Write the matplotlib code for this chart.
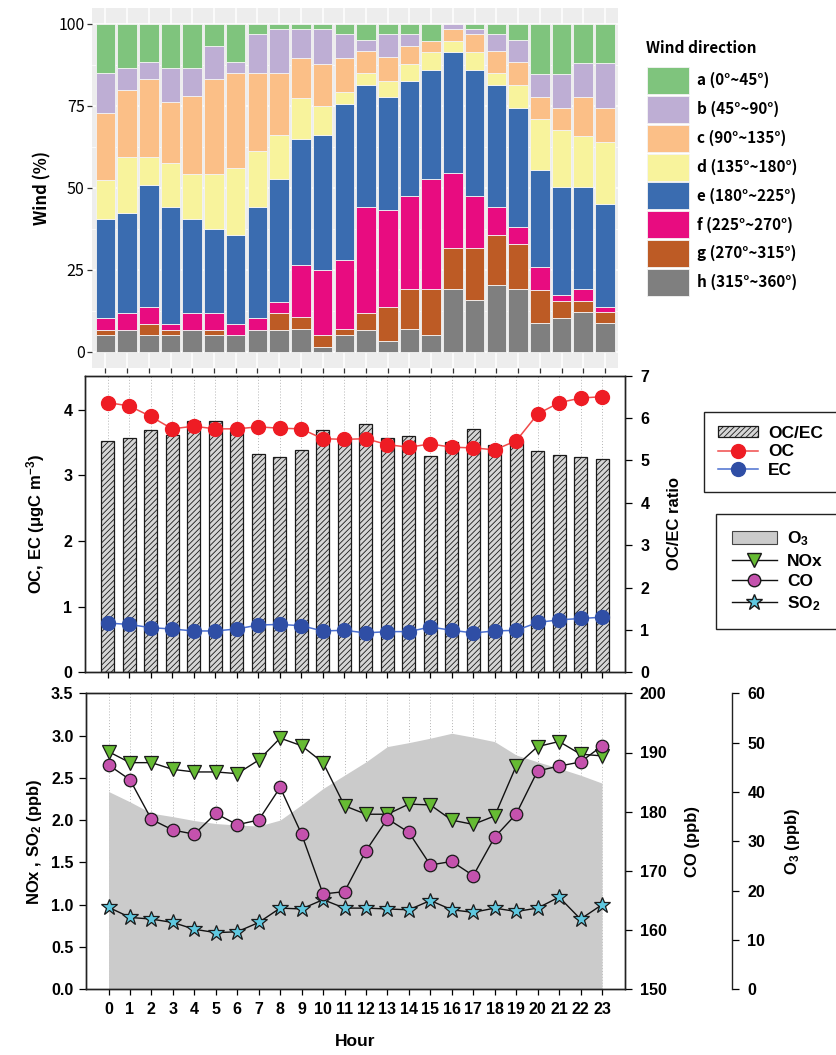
import numpy as np
import matplotlib
matplotlib.use("Agg")
import matplotlib.pyplot as plt
from matplotlib.patches import Patch
from matplotlib.lines import Line2D

plt.rcParams['font.family'] = ['Liberation Sans', 'DejaVu Sans']
plt.rcParams['font.weight'] = 'bold'
plt.rcParams['axes.labelweight'] = 'bold'
plt.rcParams['mathtext.fontset'] = 'custom'
plt.rcParams['mathtext.rm'] = 'Liberation Sans:bold'
plt.rcParams['mathtext.it'] = 'Liberation Sans:bold:italic'
plt.rcParams['mathtext.bf'] = 'Liberation Sans:bold'
plt.rcParams['mathtext.default'] = 'rm'
plt.rcParams['hatch.linewidth'] = 0.6

hours = np.arange(24)

# wind direction frequency (%) by hour, one list per sector
wind_a = [15.0, 13.4, 11.7, 13.4, 13.4, 6.6, 11.7, 3.0, 1.5, 1.5, 1.5, 3.2,
          4.9, 3.2, 3.2, 5.1, 0.0, 1.5, 3.2, 4.9, 15.2, 15.2, 11.8, 11.8]
wind_b = [12.1, 6.7, 5.2, 10.3, 8.6, 10.3, 3.3, 12.0, 13.5, 8.9, 10.8, 7.2,
          3.4, 7.0, 3.6, 0.0, 1.5, 1.7, 5.1, 6.8, 7.1, 10.4, 10.5, 13.8]
wind_c = [20.4, 20.5, 23.7, 18.6, 23.7, 28.8, 29.0, 23.9, 18.8, 12.2, 12.7, 10.5,
          6.7, 7.1, 5.4, 3.5, 3.6, 5.4, 6.7, 6.9, 6.8, 6.9, 12.0, 10.5]
wind_d = [11.9, 17.0, 8.4, 13.6, 13.7, 17.0, 20.5, 17.0, 13.6, 12.4, 8.8, 3.5,
          3.6, 5.0, 5.1, 5.3, 3.5, 5.3, 3.6, 7.0, 15.6, 17.4, 15.6, 18.9]
wind_e = [30.4, 30.7, 37.5, 35.7, 28.9, 25.6, 27.1, 33.9, 37.4, 38.7, 41.3, 47.5,
          37.3, 34.6, 35.3, 33.3, 36.9, 38.7, 37.3, 36.4, 29.5, 32.8, 31.1, 31.3]
wind_f = [3.6, 5.1, 5.1, 1.8, 5.1, 5.1, 3.3, 3.6, 3.5, 15.8, 19.8, 21.2,
          32.4, 29.4, 28.2, 33.6, 22.8, 15.7, 8.6, 5.3, 7.0, 1.9, 3.6, 1.7]
wind_g = [1.5, 0.0, 3.3, 1.5, 0.0, 1.5, 0.0, 0.0, 5.1, 3.6, 3.6, 1.8,
          5.1, 10.5, 12.3, 14.1, 12.5, 16.0, 15.2, 13.7, 10.2, 5.0, 3.4, 3.4]
wind_h = [5.1, 6.6, 5.1, 5.1, 6.6, 5.1, 5.1, 6.6, 6.6, 6.9, 1.5, 5.1,
          6.6, 3.2, 6.9, 5.1, 19.2, 15.7, 20.3, 19.0, 8.6, 10.4, 12.0, 8.6]
wind_labels = ['a (0°~45°)', 'b (45°~90°)', 'c (90°~135°)', 'd (135°~180°)',
               'e (180°~225°)', 'f (225°~270°)', 'g (270°~315°)', 'h (315°~360°)']

# carbon (µgC/m3) and OC/EC ratio
oc = [4.11, 4.06, 3.90, 3.71, 3.75, 3.71, 3.71, 3.74, 3.72, 3.71, 3.56, 3.55,
      3.56, 3.47, 3.43, 3.48, 3.43, 3.42, 3.39, 3.53, 3.94, 4.11, 4.18, 4.20]
ec = [0.75, 0.73, 0.68, 0.66, 0.63, 0.63, 0.66, 0.72, 0.73, 0.71, 0.63, 0.64,
      0.60, 0.62, 0.62, 0.69, 0.64, 0.60, 0.63, 0.64, 0.76, 0.80, 0.82, 0.84]
ocec = [5.45, 5.53, 5.71, 5.61, 5.92, 5.93, 5.70, 5.16, 5.07, 5.24, 5.71, 5.55,
        5.87, 5.54, 5.57, 5.11, 5.43, 5.74, 5.37, 5.45, 5.23, 5.14, 5.07, 5.04]

# gases (ppb)
o3 = [40.1, 38.0, 35.7, 35.0, 34.2, 33.6, 33.3, 33.1, 34.3, 37.4, 40.7, 43.4,
      46.1, 49.2, 50.0, 50.9, 51.9, 51.1, 50.2, 47.5, 46.1, 44.8, 43.4, 41.8]
nox = [2.81, 2.68, 2.68, 2.60, 2.57, 2.57, 2.55, 2.71, 2.97, 2.88, 2.68, 2.17,
       2.07, 2.07, 2.19, 2.18, 2.00, 1.95, 2.05, 2.64, 2.87, 2.93, 2.78, 2.76]
co = [187.9, 185.4, 178.7, 176.9, 176.2, 179.7, 177.8, 178.6, 184.1, 176.2, 166.1, 166.5,
      173.4, 178.8, 176.5, 171.0, 171.6, 169.2, 175.7, 179.6, 186.9, 187.7, 188.4, 191.1]
so2 = [0.97, 0.85, 0.83, 0.79, 0.71, 0.67, 0.68, 0.79, 0.96, 0.95, 1.06, 0.96,
       0.96, 0.95, 0.94, 1.05, 0.94, 0.91, 0.96, 0.92, 0.96, 1.09, 0.83, 1.00]

fig = plt.figure(figsize=(8.36, 10.55), dpi=100)
W, H = 836.0, 1055.0

# ---- wind direction stacked bars (ggplot look) ----
kr = ['Noto Sans CJK KR', 'DejaVu Sans']
ax1 = fig.add_axes([92.3 / W, 1 - 368 / H, 525.7 / W, 360.4 / H])
ax1.set_facecolor('#ededed')
wind_cols = ['#7fc47d', '#beaed4', '#fbbf87', '#f8f39c',
             '#3a6cb0', '#e80c80', '#bd5b25', '#7f7f7f']
stack = [wind_h, wind_g, wind_f, wind_e, wind_d, wind_c, wind_b, wind_a]
stack_cols = wind_cols[::-1]
bottom = np.zeros(24)
for vals, col in zip(stack, stack_cols):
    ax1.bar(hours, vals, 0.9, bottom=bottom, color=col, edgecolor='#f4f4f4',
            linewidth=0.6, zorder=3)
    bottom += np.array(vals)
ax1.set_xlim(-0.6, 23.6)
ax1.set_ylim(-5, 105)
ax1.set_xticks(hours)
ax1.set_xticklabels([])
ax1.set_yticks([0, 25, 50, 75, 100])
ax1.set_yticks([12.5, 37.5, 62.5, 87.5], minor=True)
ax1.grid(which='major', color='white', lw=1.1, zorder=0)
ax1.grid(which='minor', axis='y', color='white', lw=0.55, zorder=0)
ax1.tick_params(which='major', length=3.5, width=0.9, color='#333333', pad=2)
ax1.tick_params(which='minor', length=0)
for lab in ax1.get_yticklabels():
    lab.set_fontfamily(kr)
    lab.set_fontsize(11.5)
    lab.set_fontweight('medium')
for s in ax1.spines.values():
    s.set_visible(False)
ax1.set_ylabel('Wind (%)', fontsize=12, fontweight='bold', family=kr, labelpad=5)

wind_handles = [Patch(facecolor=c, edgecolor='#f4f4f4', lw=0.6) for c in wind_cols]
leg1 = ax1.legend(wind_handles, wind_labels,
                  loc='upper left', bbox_to_anchor=(641 / W, 1 - 61 / H),
                  bbox_transform=fig.transFigure, frameon=False,
                  prop={'family': kr, 'weight': 'bold', 'size': 11},
                  handlelength=2.75, handleheight=2.34, labelspacing=0.12,
                  handletextpad=0.5, borderaxespad=0)
fig.text(646 / W, 1 - 48 / H, 'Wind direction', family=kr, fontweight='bold',
         fontsize=11, va='center', ha='left')

# ---- OC / EC and ratio ----
ax2 = fig.add_axes([85 / W, 1 - 672.3 / H, 540 / W, 296.6 / H])
ax2r = ax2.twinx()
ax2r.set_zorder(1)
ax2.set_zorder(2)
ax2.patch.set_visible(False)
ax2r.vlines(hours, 0, 7, colors='#b5b5b5', linestyles=(0, (1, 2)), lw=0.7, zorder=0)
ax2r.bar(hours, ocec, 0.6, facecolor='#d6d6d6', edgecolor='#1a1a1a',
         hatch='//////', lw=0.9, zorder=2)
ax2.plot(hours, oc, '-o', color='#f04a4a', lw=1.1, ms=10,
         mfc='#ee1c24', mec='#ee1c24', zorder=3)
ax2.plot(hours, ec, '-o', color='#4a6fd0', lw=1.1, ms=10,
         mfc='#2f4ea5', mec='#2f4ea5', zorder=3)
ax2.set_xlim(-1.05, 24.05)
ax2.set_ylim(0, 4.52)
ax2r.set_ylim(0, 7)
ax2.set_xticks(hours)
ax2.set_xticklabels([])
ax2.set_yticks([0, 1, 2, 3, 4])
ax2r.set_yticks(range(8))
ax2.tick_params(axis='x', direction='out', length=4.5, width=0.9)
ax2.tick_params(axis='y', direction='out', length=5, width=0.9, labelsize=11.5, pad=4)
ax2r.tick_params(axis='y', direction='out', length=5, width=0.9, labelsize=11.5, pad=6)
for a in (ax2, ax2r):
    for s in a.spines.values():
        s.set_linewidth(1.0)
        s.set_color('#222222')
ax2.set_ylabel('OC, EC (μgC m$^{-3}$)', fontsize=12, labelpad=12)
ax2r.set_ylabel('OC/EC ratio', fontsize=12, labelpad=13)

carbon_handles = [
    Patch(facecolor='#d6d6d6', edgecolor='#1a1a1a', hatch='//////', lw=0.9),
    Line2D([], [], color='#f04a4a', lw=1.1, marker='o', ms=10, mfc='#ee1c24', mec='#ee1c24'),
    Line2D([], [], color='#4a6fd0', lw=1.1, marker='o', ms=10, mfc='#2f4ea5', mec='#2f4ea5'),
]
leg2 = fig.legend(carbon_handles, ['OC/EC', 'OC', 'EC'], loc='upper left',
                  bbox_to_anchor=(704 / W, 1 - 412 / H), fancybox=False,
                  edgecolor='#222222', framealpha=1, prop={'weight': 'bold', 'size': 12.5},
                  handlelength=2.3, handleheight=0.6, labelspacing=0.2,
                  handletextpad=0.6, borderpad=0.8, borderaxespad=0)
leg2.get_frame().set_linewidth(1.0)

# ---- gases ----
ax3 = fig.add_axes([86 / W, 1 - 989.3 / H, 538.5 / W, 296 / H])
ax3o = ax3.twinx()
ax3c = ax3.twinx()
ax3o.set_zorder(0)
ax3.set_zorder(1)
ax3c.set_zorder(2)
ax3.patch.set_visible(False)

ax3o.vlines(hours, 0, 60, colors='#b5b5b5', linestyles=(0, (1, 2)), lw=0.7, zorder=0)
ax3o.fill_between(hours, o3, color='#cbcbcb', lw=0, zorder=1)
ax3.plot(hours, nox, '-v', color='#111111', lw=1.0, ms=10,
         mfc='#66bb33', mec='#1a1a1a', mew=0.9, zorder=3)
ax3.plot(hours, so2, '-*', color='#111111', lw=1.0, ms=12,
         mfc='#5fc8e0', mec='#1a1a1a', mew=0.9, zorder=3)
ax3c.plot(hours, co, '-o', color='#111111', lw=1.0, ms=9,
          mfc='#c452ad', mec='#1a1a1a', mew=0.9, zorder=3)

ax3.set_xlim(-1.05, 24.05)
ax3.set_ylim(0, 3.5)
ax3c.set_ylim(150, 200)
ax3o.set_ylim(0, 60)
ax3.set_xticks(hours)
ax3.set_yticks(np.arange(0, 3.51, 0.5))
ax3.set_yticklabels(['%.1f' % v for v in np.arange(0, 3.51, 0.5)])
ax3c.set_yticks(range(150, 201, 10))
ax3o.set_yticks(range(0, 61, 10))
ax3.tick_params(axis='x', direction='out', length=4.5, width=0.9, labelsize=11.5, pad=5)
ax3.tick_params(axis='y', direction='out', length=5, width=0.9, labelsize=11.5, pad=4)
ax3c.tick_params(axis='y', direction='out', length=5, width=0.9, labelsize=11.5, pad=6)
ax3o.tick_params(axis='y', direction='out', length=5, width=0.9, labelsize=11.5, pad=6)
ax3o.spines['right'].set_position(('axes', 1.2))
for side in ('left', 'top', 'bottom'):
    ax3o.spines[side].set_visible(False)
for a in (ax3, ax3c, ax3o):
    for s in a.spines.values():
        s.set_linewidth(1.0)
        s.set_color('#222222')
ax3.set_ylabel('NOx , SO$_2$ (ppb)', fontsize=12, labelpad=5)
ax3c.set_ylabel('CO (ppb)', fontsize=12, labelpad=13)
ax3o.set_ylabel('O$_3$ (ppb)', fontsize=12, labelpad=13)
ax3.set_xlabel('Hour', fontsize=12.5, labelpad=12)

gas_handles = [
    Patch(facecolor='#cbcbcb', edgecolor='#444444', lw=0.8),
    Line2D([], [], color='#111111', lw=1.0, marker='v', ms=10, mfc='#66bb33', mec='#1a1a1a'),
    Line2D([], [], color='#111111', lw=1.0, marker='o', ms=9, mfc='#c452ad', mec='#1a1a1a'),
    Line2D([], [], color='#111111', lw=1.0, marker='*', ms=12, mfc='#5fc8e0', mec='#1a1a1a'),
]
leg3 = fig.legend(gas_handles, ['O$_3$', 'NOx', 'CO', 'SO$_2$'], loc='upper left',
                  bbox_to_anchor=(716 / W, 1 - 514 / H), fancybox=False,
                  edgecolor='#222222', framealpha=1, prop={'weight': 'bold', 'size': 12.5},
                  handlelength=2.6, handleheight=0.7, labelspacing=0.3,
                  handletextpad=0.6, borderpad=0.9, borderaxespad=0)
leg3.get_frame().set_linewidth(1.0)

fig.savefig('out.png', dpi=100)
